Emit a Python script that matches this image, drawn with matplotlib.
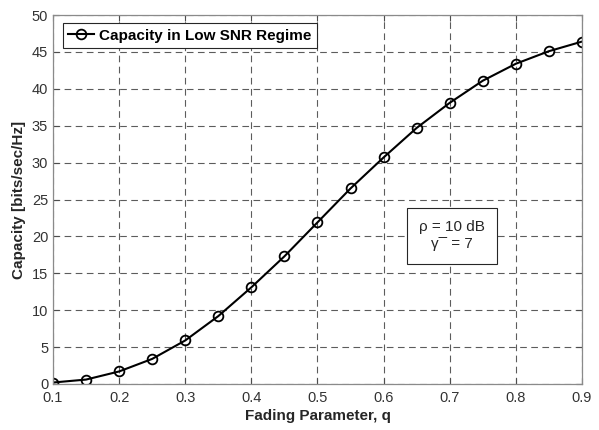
import matplotlib
matplotlib.use("Agg")
import matplotlib.pyplot as plt
import numpy as np

plt.rcParams['font.family'] = ['Liberation Sans', 'DejaVu Sans']

# fading parameter q and capacity values
q = [0.10, 0.15, 0.20, 0.25, 0.30, 0.35, 0.40, 0.45, 0.50,
     0.55, 0.60, 0.65, 0.70, 0.75, 0.80, 0.85, 0.90]
capacity = [0.2, 0.6, 1.7, 3.4, 5.9, 9.2, 13.1, 17.3, 21.9,
            26.5, 30.7, 34.7, 38.1, 41.1, 43.4, 45.1, 46.4]

xticks = [0.1, 0.2, 0.3, 0.4, 0.5, 0.6, 0.7, 0.8, 0.9]
yticks = [0, 5, 10, 15, 20, 25, 30, 35, 40, 45, 50]

fig = plt.figure(figsize=(5.99, 4.30), dpi=100)
ax = fig.add_axes([0.0885, 0.107, 0.883, 0.858])

ax.plot(q, capacity, color='black', linewidth=1.5, marker='o',
        markersize=7, markerfacecolor='none', markeredgewidth=1.3,
        label='Capacity in Low SNR Regime')

ax.set_xlim(0.1, 0.9)
ax.set_ylim(0, 50)
ax.set_xticks(xticks)
ax.set_xticklabels([f'{t:g}' for t in xticks])
ax.set_yticks(yticks)

ax.grid(True, color='#262626', linestyle=(0, (6, 4)), linewidth=0.8, alpha=0.75)
ax.set_axisbelow(True)
ax.tick_params(direction='in', top=True, right=True, length=4,
               labelsize=10.5, colors='#4d4d4d', labelcolor='#333333', width=0.8)
ax.tick_params(axis='x', pad=5)
for s in ax.spines.values():
    s.set_color('#8a8a8a')
    s.set_linewidth(0.9)

ax.set_xlabel('Fading Parameter, q', fontsize=11, fontweight='bold', color='#262626', labelpad=3)
ax.set_ylabel('Capacity [bits/sec/Hz]', fontsize=11, fontweight='bold', color='#262626', labelpad=4)

leg = ax.legend(loc='upper left', prop={'weight': 'bold', 'size': 11},
                fancybox=False, framealpha=1, edgecolor='#262626',
                handlelength=1.7, handletextpad=0.3, borderpad=0.35,
                borderaxespad=0, bbox_to_anchor=(0.019, 0.978))
leg.get_frame().set_linewidth(0.8)

ax.text(0.703, 20.1, 'ρ = 10 dB\nγ¯ = 7', ha='center', va='center',
        fontsize=11, color='#262626', linespacing=1.3,
        bbox=dict(boxstyle='square,pad=0.8', facecolor='white',
                  edgecolor='#262626', linewidth=0.8))

fig.savefig('out.png', dpi=100)
